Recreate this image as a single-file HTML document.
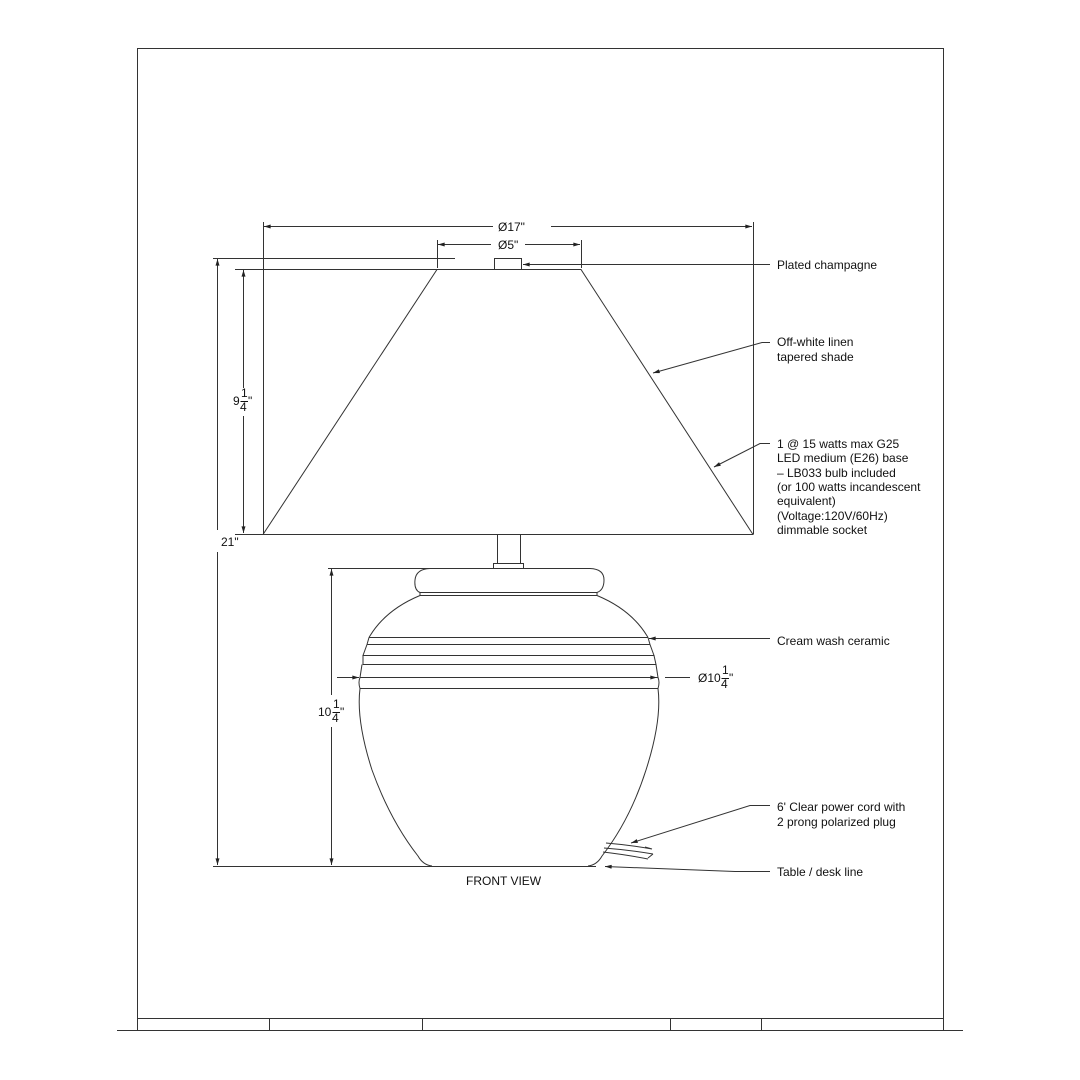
<!DOCTYPE html>
<html><head><meta charset="utf-8"><style>
html,body{margin:0;padding:0;background:#fff}
svg{display:block}
text{font-family:"Liberation Sans",Arial,sans-serif;font-size:12px;fill:#111}
</style></head><body>
<svg width="1080" height="1080" viewBox="0 0 1080 1080" xmlns="http://www.w3.org/2000/svg">
<defs>
<marker id="a" viewBox="0 0 10 6" refX="10" refY="3" markerWidth="8" markerHeight="4" orient="auto-start-reverse" markerUnits="userSpaceOnUse"><path d="M0,0 L10,3 L0,6z" fill="#222"/></marker>
</defs>
<g fill="none" stroke="#333" stroke-width="1">
<path d="M137.5,1018.5 V48.5 H943.5 V1018.5"/>
<path d="M137.5,1018.5 H943.5 M117,1030.5 H963 M137.5,1018.5 V1030.5 M269.5,1018.5 V1030.5 M422.5,1018.5 V1030.5 M670.5,1018.5 V1030.5 M761.5,1018.5 V1030.5 M943.5,1018.5 V1030.5"/>
<path d="M437,269.5 H581 L753,534.5 H263 Z"/>
<rect x="494.5" y="258.5" width="27" height="11"/>
<path d="M213,258.5 H455 M235,269.5 H437 M235,534.5 H263 M263.5,222 V534 M753.5,222 V534 M437.5,240 V268 M581.5,240 V268"/>
<path d="M264,226.5 H493 M551,226.5 H752" marker-start="url(#a)" marker-end="url(#a)" />
<path d="M438,244.5 H491 M525,244.5 H580" marker-start="url(#a)" marker-end="url(#a)"/>
<path d="M243.5,270 V388 M243.5,416 V533" marker-start="url(#a)" marker-end="url(#a)"/>
<path d="M217.5,259 V530 M217.5,552 V865" marker-start="url(#a)" marker-end="url(#a)"/>
<path d="M331.5,569 V695 M331.5,727 V865" marker-start="url(#a)" marker-end="url(#a)"/>
<path d="M328,568.5 H430"/>
<path d="M497.5,534 V563 M520.5,534 V563"/>
<rect x="493.5" y="563.5" width="30" height="5"/>
<path d="M430,568.5 H590 Q604,569 604,580 Q604,590 597,592.5 H420 Q414,590 415,580 Q416,569 430,568.5 Z"/>
<path d="M420,592.5 V595.5 H597 V592.5"/>
<path d="M420,595.5 Q385,610 369,637.5 M597,595.5 Q632,610 648,637.5"/>
<path d="M369,637.5 H648 M367,644.5 H650 M369,637.5 L367,644.5 M648,637.5 L650,644.5"/>
<path d="M367,644.5 L363,655.5 H654 L650,644.5"/>
<path d="M363,655.5 V664.5 H656 L654,655.5"/>
<path d="M362,664.5 L360,677.5 H658 L656,664.5"/>
<path d="M360,677.5 Q358,682 360,688.5 H658 Q660,682 658,677.5"/>
<path d="M360,688.5 Q356,720 372,770 Q390,820 418,856 Q423,865 432,866"/>
<path d="M658,688.5 Q662,720 646,770 Q630,820 602,856 Q597,865 588,866"/>
<path d="M213,866.5 H596"/>
<path d="M606,843 Q630,845 652,849 M604,848 Q630,850 653,854 M603,852 Q628,855 648,859 M652,849 L645,847 M653,854 L648,858"/>
<path d="M770,264.5 H523" marker-end="url(#a)"/>
<path d="M770,342.5 H762 L653,373" marker-end="url(#a)"/>
<path d="M770,443.5 H760 L714,467" marker-end="url(#a)"/>
<path d="M770,638.5 H649" marker-end="url(#a)"/>
<path d="M640,677.5 H657" marker-end="url(#a)"/>
<path d="M337,677.5 H359" marker-end="url(#a)"/>
<path d="M665,677.5 H690"/>
<path d="M770,805.5 H750 L631,843" marker-end="url(#a)"/>
<path d="M770,871.5 H735 L605,866.5" marker-end="url(#a)"/>
</g>
<text x="498" y="231">Ø17"</text>
<text x="498" y="249">Ø5"</text>
<text x="233" y="405">9</text><text x="241" y="397" font-size="10">1</text><path d="M240.5,401.5 H248" stroke="#111"/><text x="240" y="411" font-size="10">4</text><text x="248" y="405">"</text>
<text x="221" y="546">21"</text>
<text x="318" y="716">10</text><text x="333" y="708" font-size="10">1</text><path d="M332.5,712.5 H340" stroke="#111"/><text x="332" y="722" font-size="10">4</text><text x="340" y="716">"</text>
<text x="698" y="682">Ø10</text><text x="722" y="674" font-size="10">1</text><path d="M721.5,678.5 H729" stroke="#111"/><text x="721" y="688" font-size="10">4</text><text x="729" y="682">"</text>
<text x="466" y="885">FRONT VIEW</text>
<text x="777" y="269">Plated champagne</text>
<text x="777" y="346">Off-white linen</text>
<text x="777" y="361">tapered shade</text>
<text x="777" y="448">1 @ 15 watts max G25</text>
<text x="777" y="462">LED medium (E26) base</text>
<text x="777" y="477">– LB033 bulb included</text>
<text x="777" y="491">(or 100 watts incandescent</text>
<text x="777" y="505">equivalent)</text>
<text x="777" y="520">(Voltage:120V/60Hz)</text>
<text x="777" y="534">dimmable socket</text>
<text x="777" y="645">Cream wash ceramic</text>
<text x="777" y="811">6' Clear power cord with</text>
<text x="777" y="826">2 prong polarized plug</text>
<text x="777" y="876">Table / desk line</text>
</svg>
</body></html>
